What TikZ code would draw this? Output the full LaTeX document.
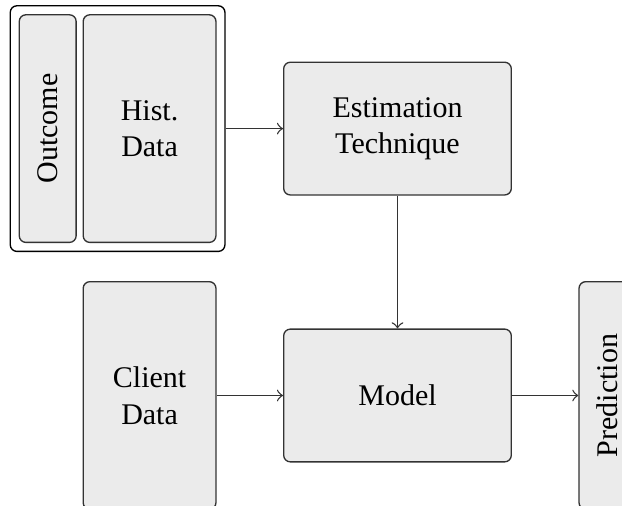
\documentclass[tikz,border=0pt]{standalone}
\usepackage{fontspec}
\setmainfont{Liberation Serif}
\usetikzlibrary{positioning,fit}
\definecolor{blockgray}{HTML}{EBEBEB}
\definecolor{blockline}{HTML}{333333}

\begin{document}
\begin{tikzpicture}[
        node distance=0.7cm,
        >=to,
        every node/.style={font=\small},
        block/.style={draw=blockline, rounded corners=2pt, fill=blockgray, minimum width=2.4cm, minimum height=1.4cm, align=center, inner sep=0pt},
        tallblock/.style={block, minimum width=1.4cm, minimum height=2.4cm},
        sideblock/.style={block, rotate=90, minimum width=2.4cm, minimum height=0.6cm},
        flow/.style={->, color=blockline},
        group/.style={draw=black, rounded corners=2pt, inner sep=2.5pt}
    ]
        \useasboundingbox (-119.25pt,-33.15pt) rectangle (67.35pt,118.65pt);
        \clip (-119.25pt,-33.15pt) rectangle (67.35pt,118.65pt);

        \node[block] (model) at (0,0) {Model};
        \node[block, above=1.4cm of model] (estim) {Estimation\\Technique};
        \node[tallblock, left=of model] (client) {Client\\Data};
        \node[tallblock, left=of estim] (hist) {Hist.\\Data};
        \node[sideblock, anchor=south] (outcome) at ([xshift=-0.06cm]hist.west) {Outcome};
        \node[sideblock, anchor=north] (pred) at ([xshift=0.7cm]model.east) {Prediction};

        \node[group, fit=(outcome)(hist)] (histgroup) {};

        \draw[flow] (histgroup) -- (estim);
        \draw[flow] (estim) -- (model);
        \draw[flow] (client) -- (model);
        \draw[flow] (model) -- (pred);
    \end{tikzpicture}
\end{document}
